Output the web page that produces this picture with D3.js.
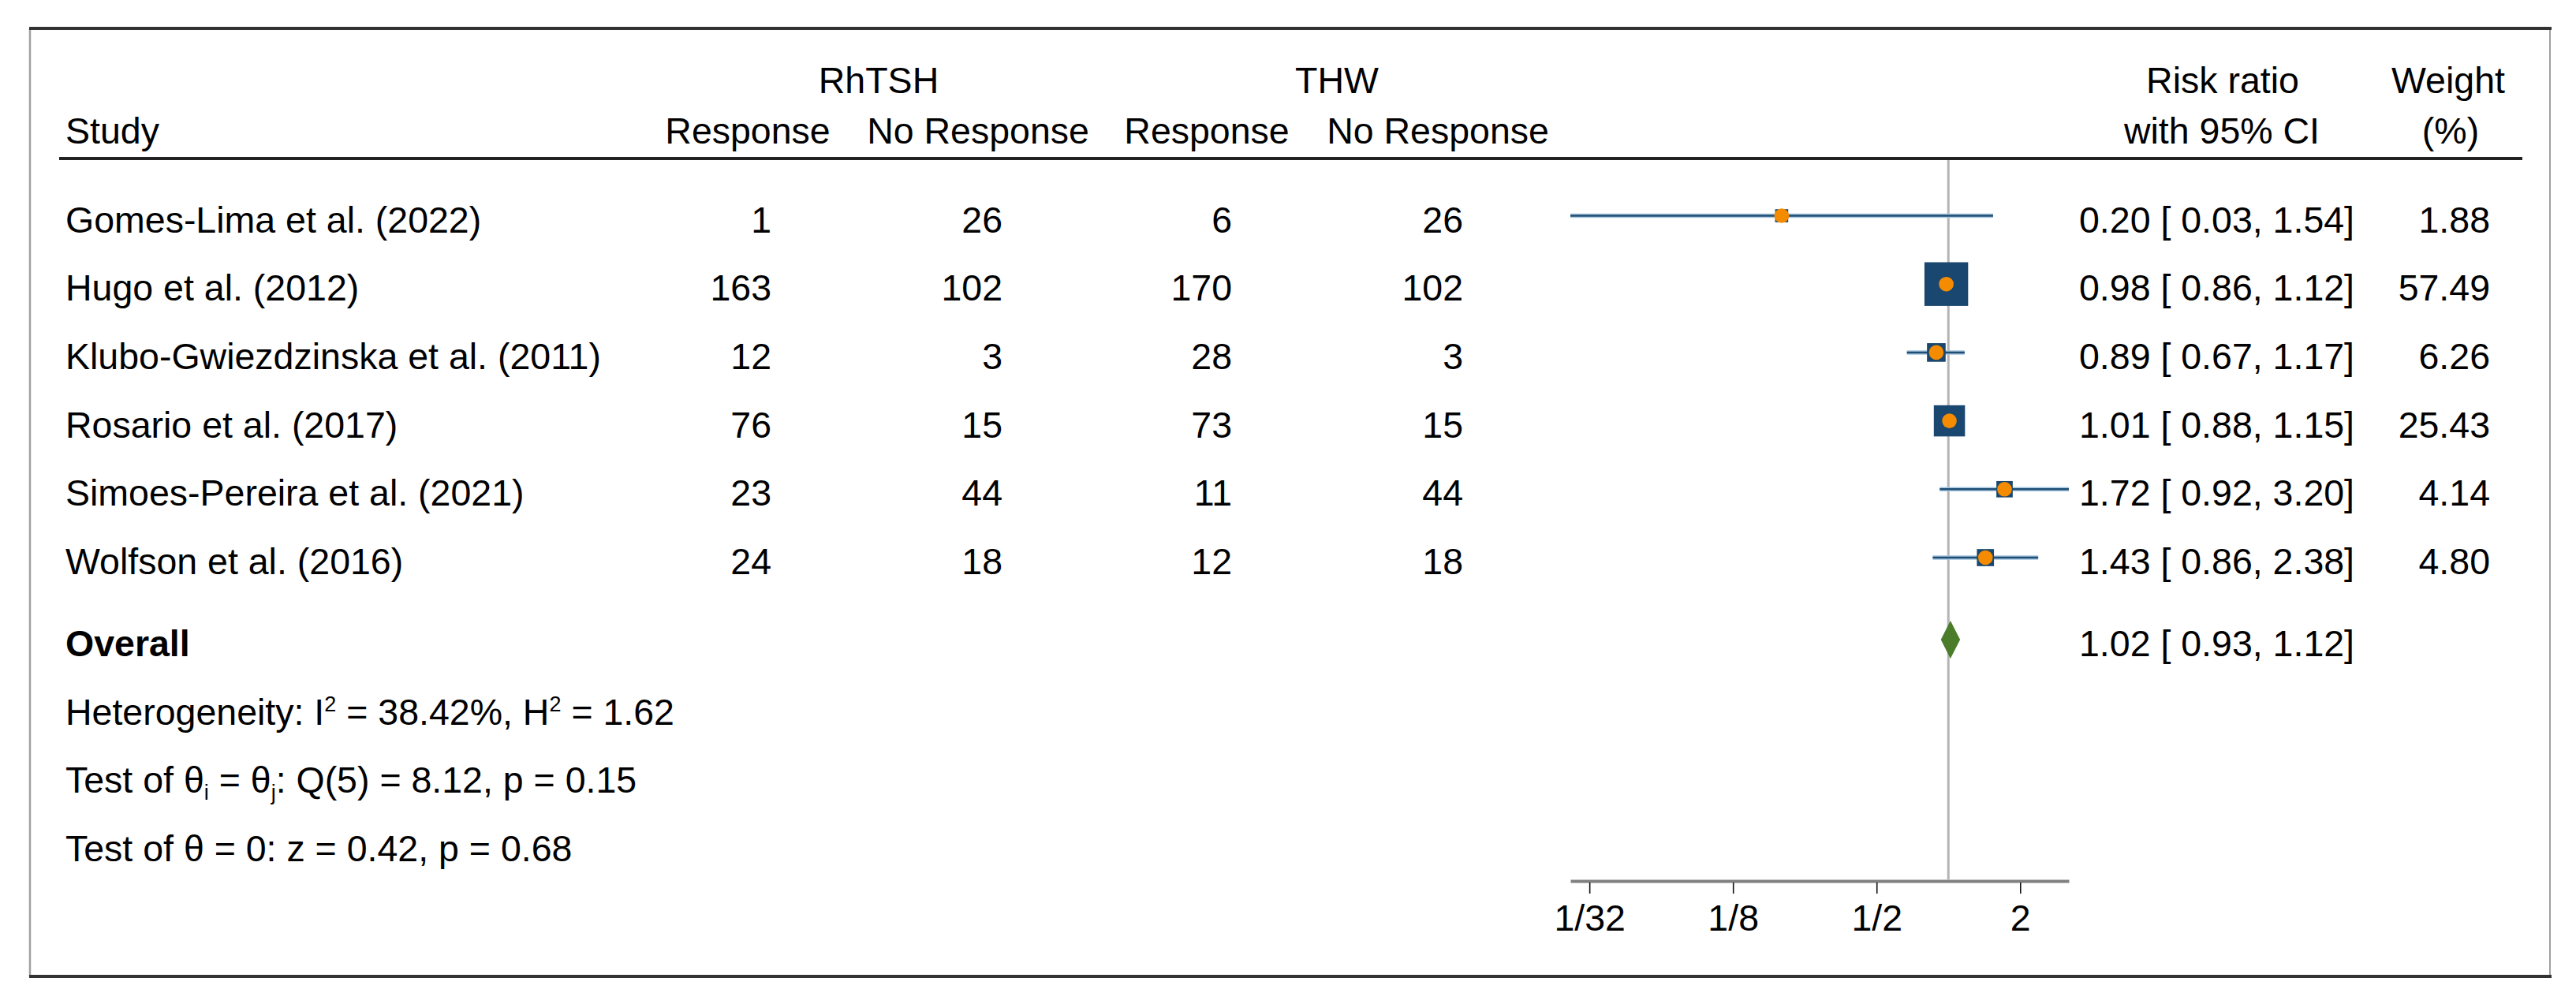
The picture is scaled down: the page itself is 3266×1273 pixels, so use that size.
<!DOCTYPE html>
<html>
<head>
<meta charset="utf-8">
<script src="https://cdn.jsdelivr.net/npm/d3@7"></script>
<style>
  html, body { margin: 0; padding: 0; background: #fff; }
  svg text { font-family: "Liberation Sans", Arial, Helvetica, sans-serif; fill: #000; }
</style>
</head>
<body>
<svg id="chart" width="3266" height="1273"></svg>
<script>
// ---------------- DATA ----------------
const studies = [
  "Gomes-Lima et al. (2022)",
  "Hugo et al. (2012)",
  "Klubo-Gwiezdzinska et al. (2011)",
  "Rosario et al. (2017)",
  "Simoes-Pereira et al. (2021)",
  "Wolfson et al. (2016)"
];
const rhResponse   = [1, 163, 12, 76, 23, 24];
const rhNoResponse = [26, 102, 3, 15, 44, 18];
const thwResponse   = [6, 170, 28, 73, 11, 12];
const thwNoResponse = [26, 102, 3, 15, 44, 18];
const riskRatio = [0.20, 0.98, 0.89, 1.01, 1.72, 1.43];
const ciLow     = [0.026, 0.86, 0.67, 0.88, 0.92, 0.86];
const ciHigh    = [1.54, 1.12, 1.17, 1.15, 3.20, 2.38];
const weights   = [1.88, 57.49, 6.26, 25.43, 4.14, 4.80];
const overallEstimate = [1.02, 0.93, 1.12]; // rr, low, high
const tickValues = [1/32, 1/8, 1/2, 2];
const tickLabels = ["1/32", "1/8", "1/2", "2"];
const groupHeaders = ["RhTSH", "THW"];
const colHeaders = ["Response", "No Response", "Response", "No Response"];

// ---------------- LAYOUT ----------------
const svg = d3.select("#chart");
const FS = 46.5;
svg.append("rect").attr("width", 3266).attr("height", 1273).attr("fill", "#fff");

const rowY = d3.scaleLinear().domain([0, 1]).range([273.5, 360.2]);
const x = d3.scaleLog().base(2)
  .domain([d3.min(ciLow), d3.max(ciHigh)])
  .range([1991, 2623]);
const side = d3.scaleSqrt().domain([0, d3.max(weights)]).range([0, 47.4]);

// frame
svg.append("line").attr("x1", 38).attr("x2", 38).attr("y1", 36).attr("y2", 1238)
  .attr("stroke", "#a0a0a0").attr("stroke-width", 2.5);
svg.append("line").attr("x1", 3233).attr("x2", 3233).attr("y1", 36).attr("y2", 1238)
  .attr("stroke", "#a0a0a0").attr("stroke-width", 2);
svg.append("line").attr("x1", 37).attr("x2", 3235).attr("y1", 36).attr("y2", 36)
  .attr("stroke", "#333").attr("stroke-width", 4);
svg.append("line").attr("x1", 37).attr("x2", 3235).attr("y1", 1238).attr("y2", 1238)
  .attr("stroke", "#333").attr("stroke-width", 4);

// header
const txt = (xp, yp, s, anchor, extra) => {
  const t = svg.append("text").attr("x", xp).attr("y", yp)
    .attr("font-size", FS).attr("text-anchor", anchor || "start").text(s);
  if (extra) extra(t);
  return t;
};
txt(1114, 118, groupHeaders[0], "middle");
txt(1695, 118, groupHeaders[1], "middle");
txt(2818, 118, "Risk ratio", "middle");
txt(3104, 118, "Weight", "middle");
txt(83, 182, "Study", "start");
const headCenters = [948, 1240, 1530, 1823];
colHeaders.forEach((h, i) => txt(headCenters[i], 182, h, "middle"));
txt(2817, 182, "with 95% CI", "middle");
txt(3107, 182, "(%)", "middle");

svg.append("line").attr("x1", 75).attr("x2", 3198).attr("y1", 201).attr("y2", 201)
  .attr("stroke", "#222").attr("stroke-width", 4);

// reference line at 1
svg.append("line").attr("x1", x(1)).attr("x2", x(1)).attr("y1", 203).attr("y2", 1115)
  .attr("stroke", "#b4b4b4").attr("stroke-width", 3);

// study rows
const colRight = [978, 1271, 1562, 1855];
const cols = [rhResponse, rhNoResponse, thwResponse, thwNoResponse];
studies.forEach((s, i) => {
  const yb = rowY(i) + 21;
  txt(83, yb, s, "start");
  cols.forEach((c, j) => txt(colRight[j], yb, String(c[i]), "end"));
  txt(2636, yb, `${riskRatio[i].toFixed(2)} [ ${ciLow[i].toFixed(2)}, ${ciHigh[i].toFixed(2)}]`, "start");
  txt(3157, yb, weights[i].toFixed(2), "end");
});

const marks = svg.append("g");
studies.forEach((s, i) => {
  const y = rowY(i);
  marks.append("line").attr("x1", x(ciLow[i])).attr("x2", x(ciHigh[i]))
    .attr("y1", y).attr("y2", y).attr("stroke", "#a3c3de").attr("stroke-width", 5.5);
  marks.append("line").attr("x1", x(ciLow[i])).attr("x2", x(ciHigh[i]))
    .attr("y1", y).attr("y2", y).attr("stroke", "#1f4e74").attr("stroke-width", 2.5);
});
studies.forEach((s, i) => {
  const y = rowY(i);
  const w = side(weights[i]) + 8;
  marks.append("rect").attr("x", x(riskRatio[i]) - w / 2).attr("y", y - w / 2)
    .attr("width", w).attr("height", w).attr("fill", "#1a476f");
  marks.append("circle").attr("cx", x(riskRatio[i])).attr("cy", y).attr("r", 9.3)
    .attr("fill", "#f58b00");
});

// overall
const yo = rowY(6.2);
txt(83, yo + 21, "Overall", "start", t => t.attr("font-weight", "bold"));
marks.append("polygon")
  .attr("points", [
    [x(overallEstimate[1]), yo], [x(overallEstimate[0]), yo - 24],
    [x(overallEstimate[2]), yo], [x(overallEstimate[0]), yo + 24]
  ].map(p => p.join(",")).join(" "))
  .attr("fill", "#4a7c29");
txt(2636, yo + 21, `${overallEstimate[0].toFixed(2)} [ ${overallEstimate[1].toFixed(2)}, ${overallEstimate[2].toFixed(2)}]`, "start");

// footnotes
const small = 27;
const f1 = txt(83, rowY(7.2) + 21, "", "start");
f1.append("tspan").text("Heterogeneity: I");
f1.append("tspan").attr("font-size", small).attr("dy", -17).text("2");
f1.append("tspan").attr("dy", 17).text(" = 38.42%, H");
f1.append("tspan").attr("font-size", small).attr("dy", -17).text("2");
f1.append("tspan").attr("dy", 17).text(" = 1.62");

const f2 = txt(83, rowY(8.2) + 21, "", "start");
f2.append("tspan").text("Test of θ");
f2.append("tspan").attr("font-size", small).attr("dy", 9).text("i");
f2.append("tspan").attr("dy", -9).text(" = θ");
f2.append("tspan").attr("font-size", small).attr("dy", 9).text("j");
f2.append("tspan").attr("dy", -9).text(": Q(5) = 8.12, p = 0.15");

txt(83, rowY(9.2) + 21, "Test of θ = 0: z = 0.42, p = 0.68", "start");

// axis
const axisG = svg.append("g").attr("transform", "translate(0,1117)")
  .call(d3.axisBottom(x).tickValues(tickValues)
    .tickFormat((d, i) => tickLabels[i])
    .tickSizeInner(16).tickSizeOuter(0).tickPadding(14));
axisG.select(".domain").attr("stroke", "#808080").attr("stroke-width", 4);
axisG.selectAll(".tick line").attr("stroke", "#111").attr("stroke-width", 1.6)
  .attr("y1", 2);
axisG.selectAll(".tick text").attr("font-size", FS)
  .attr("font-family", "'Liberation Sans', Arial, sans-serif").attr("fill", "#000");
</script>
</body>
</html>
